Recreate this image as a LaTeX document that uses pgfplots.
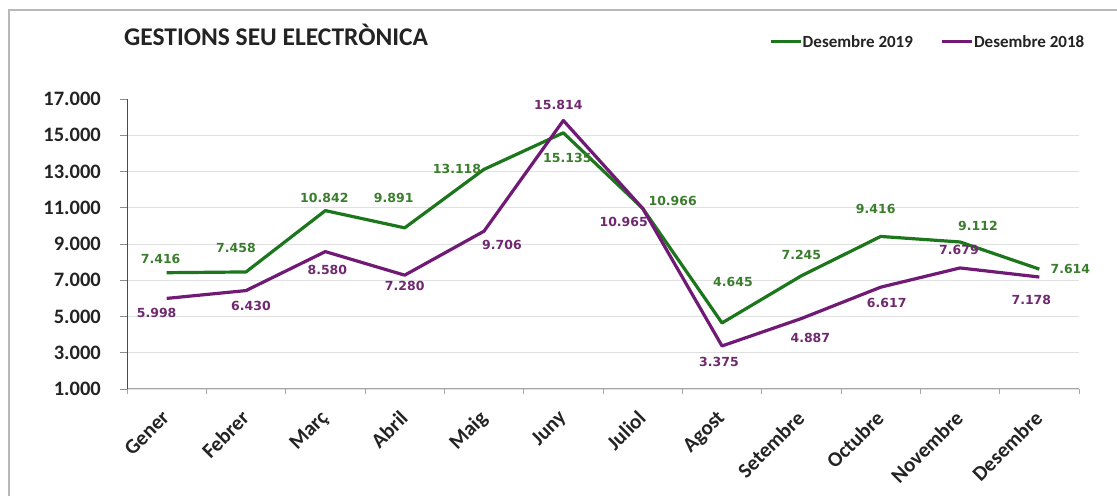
\documentclass[border=0pt]{standalone}
\usepackage{fontspec}
\setmainfont{Carlito}
\newfontfamily\carlito{Carlito}
\newfontfamily\dejavu{DejaVu Sans}
\usepackage{pgfplots}
\pgfplotsset{compat=1.18}
\definecolor{gline}{RGB}{28,118,28}
\definecolor{pline}{RGB}{112,26,118}
\definecolor{glab}{RGB}{58,125,45}
\definecolor{plab}{RGB}{112,40,112}
\definecolor{txt}{RGB}{35,35,35}

\begin{document}
\begin{tikzpicture}
\begin{axis}[
  at={(127bp,107bp)}, anchor=south west,
  scale only axis, width=952bp, height=290bp,
  xmin=0.5, xmax=12.5, ymin=1000, ymax=17000,
  axis x line*=bottom, axis y line*=left,
  x axis line style={draw=black!35, line width=1bp},
  y axis line style={draw=black!70, line width=1bp},
  xtick={1,...,12},
  xticklabels={Gener,Febrer,Març,Abril,Maig,Juny,Juliol,Agost,Setembre,Octubre,Novembre,Desembre},
  minor xtick={0.5,1.5,...,12.5},
  major x tick style={draw=none},
  minor x tick style={draw=black!35, line width=0.8bp},
  ytick={1000,3000,...,15000},
  extra y ticks={17000},
  extra y tick style={grid=none},
  scaled y ticks=false,
  tick align=outside,
  major tick length=7bp, minor tick length=5bp,
  y tick style={draw=black!45, line width=0.8bp},
  ymajorgrids,
  major grid style={draw=black!12, line width=0.8bp},
  /pgf/number format/1000 sep={.},
  /pgf/number format/assume math mode=true,
  yticklabel style={font=\carlito\bfseries\fontsize{20.5bp}{24bp}\selectfont, text=txt, anchor=east, inner sep=0pt, xshift=-19bp},
  xticklabel style={font=\carlito\bfseries\fontsize{21bp}{24bp}\selectfont, text=txt, anchor=north east, inner sep=0pt, xshift=-6bp, yshift=-13bp, rotate=45},
  legend style={at={(axis description cs:1.0063,1.1966)}, anchor=east, draw=none, fill=none,
    font=\carlito\bfseries\fontsize{17bp}{19bp}\selectfont, text=txt, inner sep=0pt,
    nodes={inner sep=0.5bp},
    /tikz/every even column/.append style={column sep=27bp},
    /tikz/every odd column/.append style={column sep=0bp}},
  legend columns=2,
  legend image code/.code={\draw[#1, line width=3bp] (0bp,0bp) -- (30bp,0bp);},
  clip=false,
]
\addplot[gline, line width=3.2bp, line join=round, mark=none,
  nodes near coords, point meta=y,
  visualization depends on={\thisrow{dx}\as\dx},
  visualization depends on={\thisrow{dy}\as\dy},
  nodes near coords style={anchor=center, inner sep=0pt, xshift=\dx*1bp, yshift=\dy*1bp,
    font=\dejavu\bfseries\fontsize{12.5bp}{14bp}\selectfont, text=glab}] table[x=x, y=y] {
x y dx dy
1 7416 -6 14
2 7458 -10 24
3 10842 -1 13
4 9891 -11 30
5 13118 -27 0
6 15135 4 -25
7 10966 30 7
8 4645 11 41
9 7245 0 21
10 9416 -5 28
11 9112 18 16
12 7614 31 0
};
\addlegendentry{Desembre 2019}
\addplot[pline, line width=3.2bp, line join=round, mark=none,
  nodes near coords, point meta=y,
  visualization depends on={\thisrow{dx}\as\dx},
  visualization depends on={\thisrow{dy}\as\dy},
  nodes near coords style={anchor=center, inner sep=0pt, xshift=\dx*1bp, yshift=\dy*1bp,
    font=\dejavu\bfseries\fontsize{12.5bp}{14bp}\selectfont, text=plab}] table[x=x, y=y] {
x y dx dy
1 5998 -10 -15
2 6430 5 -15
3 8580 2 -18
4 7280 0 -11
5 9706 18 -14
6 15814 -5 16
7 10965 -19 -14
8 3375 -3 -16
9 4887 9 -19
10 6617 6 -16
11 7679 -1 18
12 7178 -8 -23
};
\addlegendentry{Desembre 2018}
\end{axis}
\node[anchor=west, inner sep=0pt, text=txt, font=\carlito\bfseries\fontsize{25.5bp}{28bp}\selectfont] at (124bp,461bp) {GESTIONS SEU ELECTRÒNICA};
\draw[black!28, line width=1.5bp] (9bp,0bp) -- (9bp,486bp) -- (1117bp,486bp);
\pgfresetboundingbox
\path (0bp,0bp) rectangle (1117bp,496bp);
\end{tikzpicture}
\end{document}
